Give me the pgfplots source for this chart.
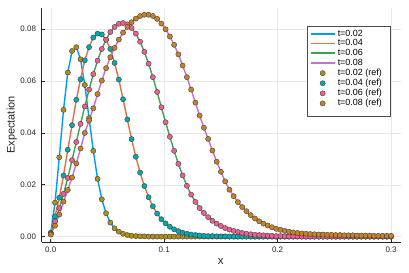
\documentclass[border=0pt]{standalone}
\usepackage{fontspec}
\setmainfont{Liberation Sans}
\usepackage{pgfplots}
\usepackage{pgfplotstable}
\pgfplotsset{compat=1.18}
\definecolor{l1}{HTML}{009AFA}
\definecolor{l2}{HTML}{E36F47}
\definecolor{l3}{HTML}{3EA44E}
\definecolor{l4}{HTML}{C371D2}
\definecolor{r1}{HTML}{AC8E18}
\definecolor{r2}{HTML}{00AAAE}
\definecolor{r3}{HTML}{ED5E93}
\definecolor{r4}{HTML}{C68225}
\pgfplotstableread{
x a b c d
0 0.0015 0.0012 0.0010 0.0008
0.00375 0.0131 0.0078 0.0058 0.0042
0.0075 0.0306 0.0150 0.0110 0.0085
0.01125 0.0489 0.0236 0.0165 0.0135
0.015 0.0633 0.0335 0.0226 0.0180
0.01875 0.0716 0.0430 0.0295 0.0228
0.0225 0.0731 0.0528 0.0365 0.0282
0.02625 0.0684 0.0607 0.0435 0.0340
0.03 0.0585 0.0680 0.0502 0.0400
0.03375 0.0457 0.0731 0.0567 0.0448
0.0375 0.0331 0.0768 0.0627 0.0495
0.04125 0.0223 0.0783 0.0679 0.0550
0.045 0.0144 0.0780 0.0724 0.0602
0.04875 0.0090 0.0760 0.0760 0.0650
0.0525 0.0054 0.0724 0.0789 0.0692
0.05625 0.0032 0.0670 0.0809 0.0728
0.06 0.0019 0.0606 0.0821 0.0760
0.06375 0.0011 0.0530 0.0824 0.0787
0.0675 0.0006 0.0452 0.0819 0.0809
0.07125 0.0003 0.0376 0.0805 0.0827
0.075 0.0002 0.0308 0.0783 0.0841
0.07875 0.0001 0.0247 0.0752 0.0851
0.0825 0.0001 0.0195 0.0713 0.0856
0.08625 0.0000 0.0152 0.0667 0.0856
0.09 0 0.0117 0.0615 0.0851
0.09375 0 0.0089 0.0558 0.0840
0.0975 0 0.0067 0.0499 0.0822
0.10125 0 0.0051 0.0441 0.0800
0.105 0 0.0038 0.0385 0.0772
0.10875 0 0.0028 0.0331 0.0740
0.1125 0 0.0021 0.0281 0.0703
0.11625 0 0.0015 0.0236 0.0660
0.12 0 0.0011 0.0196 0.0615
0.12375 0 0.0008 0.0162 0.0567
0.1275 0 0.0006 0.0134 0.0517
0.13125 0 0.0004 0.0110 0.0467
0.135 0 0.0003 0.0091 0.0420
0.13875 0 0.0002 0.0075 0.0377
0.1425 0 0.0002 0.0061 0.0332
0.14625 0 0.0001 0.0050 0.0289
0.15 0 0.0001 0.0041 0.0250
0.15375 0 0.0001 0.0033 0.0213
0.1575 0 0 0.0027 0.0181
0.16125 0 0 0.0022 0.0156
0.165 0 0 0.0018 0.0133
0.16875 0 0 0.0014 0.0114
0.1725 0 0 0.0011 0.0098
0.17625 0 0 0.0009 0.0083
0.18 0 0 0.0007 0.0070
0.18375 0 0 0.0006 0.0059
0.1875 0 0 0.0005 0.0050
0.19125 0 0 0.0004 0.0043
0.195 0 0 0.0003 0.0036
0.19875 0 0 0.0002 0.0030
0.2025 0 0 0.0002 0.0026
0.20625 0 0 0.0001 0.0022
0.21 0 0 0.0001 0.0019
0.21375 0 0 0.0001 0.0016
0.2175 0 0 0.0001 0.0014
0.22125 0 0 0 0.0012
0.225 0 0 0 0.0011
0.22875 0 0 0 0.0010
0.2325 0 0 0 0.0009
0.23625 0 0 0 0.0008
0.24 0 0 0 0.0008
0.24375 0 0 0 0.0007
0.2475 0 0 0 0.0007
0.25125 0 0 0 0.0006
0.255 0 0 0 0.0006
0.25875 0 0 0 0.0005
0.2625 0 0 0 0.0005
0.26625 0 0 0 0.0005
0.27 0 0 0 0.0004
0.27375 0 0 0 0.0004
0.2775 0 0 0 0.0004
0.28125 0 0 0 0.0004
0.285 0 0 0 0.0003
0.28875 0 0 0 0.0003
0.2925 0 0 0 0.0003
0.29625 0 0 0 0.0003
0.3 0 0 0 0.0003
}\data
\pgfplotsset{
  linelegend/.style={legend image code/.code={\path[draw=none] (0bp,0bp) -- (26bp,0bp);\fill[fill=#1, draw=none] (0bp,-0.9bp) rectangle (24bp,0.9bp);}},
  marklegend/.style={legend image code/.code={\path[draw=none] (0bp,0bp) -- (26bp,0bp);\draw[fill=#1, draw=black!75, line width=0.4bp] (12bp,0bp) circle (2.6bp);}},
}
\begin{document}
\begin{tikzpicture}[x=1bp,y=1bp]
\path[use as bounding box] (0,0) rectangle (409,273);
\begin{axis}[
  at={(41.7bp,30.7bp)}, anchor=south west,
  width=359bp, height=234.3bp, scale only axis,
  xmin=-0.008, xmax=0.3085, ymin=-0.0022, ymax=0.0882,
  axis lines=left, axis line style={-, black!85, line width=0.8bp},
  grid=major, grid style={black!9, line width=0.5bp},
  tick align=inside, major tick length=3bp,
  tick style={black!85, line width=0.6bp},
  xtick={0,0.1,0.2,0.3}, xticklabels={0.0,0.1,0.2,0.3},
  ytick={0,0.02,0.04,0.06,0.08}, yticklabels={0.00,0.02,0.04,0.06,0.08},
  scaled ticks=false,
  ticklabel style={font=\fontsize{8}{9}\selectfont, text=black!85},
  xticklabel style={yshift=-1.2bp},
  yticklabel style={xshift=-2.2bp},
  legend style={at={(0.739,0.9232)}, anchor=north west,
    font=\fontsize{9}{10}\selectfont, draw=none, fill=none,
    inner xsep=3.5bp, inner ysep=2.5bp, row sep=0bp,
    nodes={inner sep=1.05bp}, cells={anchor=west}},
]
\addplot[no marks, color=l1, line width=1.4bp, linelegend=l1] table[x=x,y=a]{\data};
\addlegendentry{t=0.02}
\addplot[no marks, color=l2, line width=1.4bp, linelegend=l2] table[x=x,y=b]{\data};
\addlegendentry{t=0.04}
\addplot[no marks, color=l3, line width=1.4bp, linelegend=l3] table[x=x,y=c]{\data};
\addlegendentry{t=0.06}
\addplot[no marks, color=l4, line width=1.4bp, linelegend=l4] table[x=x,y=d]{\data};
\addlegendentry{t=0.08}
\addplot[only marks, mark=*, mark size=2.6bp, mark options={fill=r1, draw=black!75, line width=0.4bp}, marklegend=r1] table[x=x,y=a]{\data};
\addlegendentry{t=0.02 (ref)}
\addplot[only marks, mark=*, mark size=2.6bp, mark options={fill=r2, draw=black!75, line width=0.4bp}, marklegend=r2] table[x=x,y=b]{\data};
\addlegendentry{t=0.04 (ref)}
\addplot[only marks, mark=*, mark size=2.6bp, mark options={fill=r3, draw=black!75, line width=0.4bp}, marklegend=r3] table[x=x,y=c]{\data};
\addlegendentry{t=0.06 (ref)}
\addplot[only marks, mark=*, mark size=2.6bp, mark options={fill=r4, draw=black!75, line width=0.4bp}, marklegend=r4] table[x=x,y=d]{\data};
\addlegendentry{t=0.08 (ref)}
\draw[black!70, line width=0.5bp, fill=white] (rel axis cs:0.739,0.9232) rectangle (rel axis cs:0.9702,0.539);
\end{axis}
\node[rotate=90, font=\fontsize{11}{12}\selectfont, text=black!85] at (11.7,148) {Expectation};
\node[font=\fontsize{11.5}{12}\selectfont, text=black!85] at (220.7,11.8) {x};
\end{tikzpicture}
\end{document}
